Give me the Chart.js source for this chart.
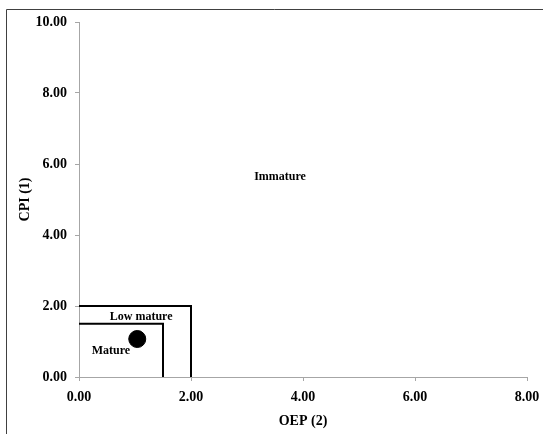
<!DOCTYPE html>
<html><head><meta charset="utf-8">
<script src="https://cdn.jsdelivr.net/npm/chart.js@4"></script>
<style>html,body{margin:0;padding:0;background:#fff}#wrap{width:543px;height:434px}</style>
</head><body><div id="wrap"><canvas id="c" width="543" height="434"></canvas></div>
<script>
// Data
const xTicks = [0, 2, 4, 6, 8];
const yTicks = [0, 2, 4, 6, 8, 10];
const lowMatureBoxX = [0, 2, 2];
const lowMatureBoxY = [2, 2, 0];
const matureBoxX = [0, 1.5, 1.5];
const matureBoxY = [1.5, 1.5, 0];
const sampleX = [1.04];
const sampleY = [1.07];
const zoneNames = ['Immature', 'Low mature', 'Mature'];
const zoneX = [3.59, 1.11, 0.57];
const zoneY = [5.63, 1.69, 0.73];

const pts = (xs, ys) => xs.map((x, i) => ({x, y: ys[i]}));
const FONT = '"Liberation Serif", "Times New Roman", serif';

const framePlugin = {
  id: 'frame',
  afterDraw(chart) {
    const ctx = chart.ctx;
    ctx.save();
    ctx.strokeStyle = '#404040';
    ctx.lineWidth = 1;
    ctx.beginPath();
    ctx.moveTo(6.5, 434);
    ctx.lineTo(6.5, 9.5);
    ctx.lineTo(543, 9.5);
    ctx.stroke();
    ctx.restore();
  }
};
const labelPlugin = {
  id: 'zoneLabels',
  afterDatasetsDraw(chart) {
    const ctx = chart.ctx, xs = chart.scales.x, ys = chart.scales.y;
    ctx.save();
    ctx.font = 'bold 12px ' + FONT;
    ctx.fillStyle = '#000';
    ctx.textAlign = 'center';
    ctx.textBaseline = 'middle';
    zoneNames.forEach((n, i) => ctx.fillText(n, xs.getPixelForValue(zoneX[i]), ys.getPixelForValue(zoneY[i])));
    ctx.restore();
  }
};

new Chart(document.getElementById('c'), {
  type: 'scatter',
  data: {
    datasets: [
      {data: pts(lowMatureBoxX, lowMatureBoxY), showLine: true, borderColor: '#000', borderWidth: 2, pointRadius: 0, fill: false, tension: 0},
      {data: pts(matureBoxX, matureBoxY), showLine: true, borderColor: '#000', borderWidth: 2, pointRadius: 0, fill: false, tension: 0},
      {data: pts(sampleX, sampleY), pointRadius: 8.5, backgroundColor: '#000', borderColor: '#000', pointStyle: 'circle'}
    ]
  },
  options: {
    responsive: false,
    animation: false,
    devicePixelRatio: 1,
    layout: {padding: {left: 10, top: 22, right: 16, bottom: 4}},
    plugins: {legend: {display: false}, tooltip: {enabled: false}},
    scales: {
      x: {
        type: 'linear', min: 0, max: 8,
        afterBuildTicks: s => { s.ticks = xTicks.map(v => ({value: v})); },
        ticks: {callback: v => v.toFixed(2), font: {family: FONT, size: 14, weight: 'bold'}, color: '#000', padding: 8, maxRotation: 0},
        grid: {drawOnChartArea: false, drawTicks: true, tickLength: 4, color: '#a6a6a6'},
        border: {color: '#a6a6a6', width: 1},
        title: {display: true, text: 'OEP (2)', font: {family: FONT, size: 14, weight: 'bold'}, color: '#000', padding: {top: 4, bottom: 0}},
        afterFit: s => { s.height = 53; s.paddingLeft = 0; s.paddingRight = 0; }
      },
      y: {
        type: 'linear', min: 0, max: 10,
        afterBuildTicks: s => { s.ticks = yTicks.map(v => ({value: v})); },
        ticks: {callback: v => v.toFixed(2), font: {family: FONT, size: 14, weight: 'bold'}, color: '#000', padding: 8},
        grid: {drawOnChartArea: false, drawTicks: true, tickLength: 4, color: '#a6a6a6'},
        border: {color: '#a6a6a6', width: 1},
        title: {display: true, text: 'CPI (1)', font: {family: FONT, size: 14, weight: 'bold'}, color: '#000', padding: {top: 7, bottom: 6}},
        afterFit: s => { s.width = 69; s.paddingTop = 0; s.paddingBottom = 0; }
      }
    }
  },
  plugins: [framePlugin, labelPlugin]
});
</script></body></html>
